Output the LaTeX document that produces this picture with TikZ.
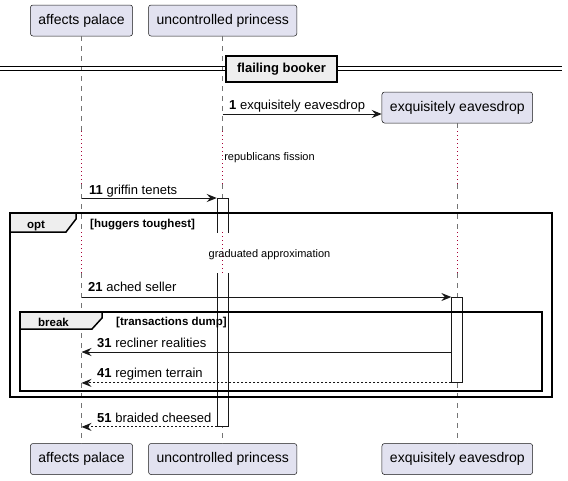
\documentclass[tikz,border=0pt]{standalone}
\usepackage{fontspec}
\setmainfont{Liberation Sans}
\usetikzlibrary{arrows.meta}
\definecolor{partfill}{HTML}{E2E2F0}
\definecolor{partline}{HTML}{181818}
\definecolor{grpfill}{HTML}{EEEEEE}
\definecolor{delaycol}{HTML}{A80036}
\tikzset{
  part/.style    = {shape=rectangle, rounded corners=2.5pt,
                    draw=partline, line width=0.5pt, fill=partfill,
                    inner xsep=8pt, minimum height=31pt,
                    font=\fontsize{14}{16}\selectfont},
  life/.style    = {draw=partline!60, line width=0.5pt, dash pattern=on 5pt off 5pt},
  pause/.style   = {draw=delaycol, line width=0.8pt, dash pattern=on 1pt off 3pt},
  act/.style     = {shape=rectangle, draw=partline, line width=0.9pt,
                    fill=white, minimum width=11pt, inner sep=0pt, anchor=north},
  msg/.style     = {draw=partline, line width=0.9pt,
                    -{Stealth[length=10pt,width=8pt,inset=3.5pt]}},
  reply/.style   = {msg, dash pattern=on 2pt off 2pt},
  lbl/.style     = {anchor=base west, inner sep=0pt, font=\fontsize{13}{15}\selectfont},
  pausetxt/.style = {anchor=base, inner sep=0pt, font=\fontsize{11}{13}\selectfont},
  frame/.style   = {draw=black, line width=1.5pt},
  tab/.style     = {frame, fill=grpfill},
  grplbl/.style  = {inner sep=0pt, font=\fontsize{11.5}{13}\selectfont\bfseries},
  divbox/.style  = {shape=rectangle, draw=black, line width=1.5pt, fill=grpfill,
                    minimum width=111pt, minimum height=26pt,
                    font=\fontsize{13}{15}\selectfont\bfseries}
}
\begin{document}
\begin{tikzpicture}[x=1pt, y=-1pt]
  \path[fill=white, use as bounding box] (0,0) rectangle (568,480);

  % participants
  \node[part] (pa)  at (81.5,20.5)  {affects palace};
  \node[part] (pb)  at (222.7,20.5) {uncontrolled princess};
  \node[part] (pc)  at (457.3,107.5) {exquisitely eavesdrop};
  \node[part] (pa2) at (81.5,459)   {affects palace};
  \node[part] (pb2) at (222.7,459)  {uncontrolled princess};
  \node[part] (pc2) at (457.3,459)  {exquisitely eavesdrop};

  % delays
  \coordinate (d1t) at (0,131);
  \coordinate (d1b) at (0,184);
  \coordinate (d2t) at (0,232);
  \coordinate (d2b) at (0,273);

  \foreach \p/\q in {pa/pa2, pb/pb2, pc/pc2} {
    \draw[life] (\p.south) -- (\p |- d1t);
    \draw[life] (\p |- d1b) -- (\p |- d2t);
    \draw[life] (\p |- d2b) -- (\q.north);
  }

  % activations
  \node[act, minimum height=228pt] (actb) at (222.7,198) {};
  \node[act, minimum height=85pt]  (actc) at (457.3,297) {};
  \fill[white] (215,232.5) rectangle (231,272.5);

  \foreach \p in {pa, pb, pc} {
    \draw[pause] (\p |- d1t) -- (\p |- d1b);
    \draw[pause] (\p |- d2t) -- (\p |- d2b);
  }
  \node[pausetxt] (p1) at (269.5,160) {republicans fission};
  \node[pausetxt] (p2) at (269.5,257) {graduated approximation};

  % divider
  \draw[line width=1pt] (0,66) -- (562,66) (0,70) -- (562,70);
  \node[divbox] (div) at (281.5,69) {flailing booker};

  % opt group
  \draw[frame] (10,213) rectangle (552,397);
  \draw[tab] (10,213) -- (76,213) -- (76,219) -- (66,232) -- (10,232) -- cycle;
  \node[grplbl, anchor=base] (optl) at (36,228) {opt};
  \node[grplbl, anchor=base west] (optc) at (90,227) {[huggers toughest]};

  % break group
  \draw[frame] (20,312) rectangle (542,391);
  \draw[tab] (20,312) -- (102,312) -- (102,318) -- (92,329) -- (20,329) -- cycle;
  \node[grplbl, anchor=base] (brkl) at (53.5,326) {break};
  \node[grplbl, anchor=base west] (brkc) at (116,325) {[transactions dump]};

  % messages
  \coordinate (m1)  at (0,114);
  \coordinate (m31) at (0,352);
  \draw[msg] (pb |- m1) -- (pc.west |- m1);
  \node[lbl] (l1) at (229,109) {\textbf{1} exquisitely eavesdrop};
  \draw[msg] (pa |- actb.north) -- (actb.north west);
  \node[lbl] (l11) at (89,194) {\textbf{11} griffin tenets};
  \draw[msg] (pa |- actc.north) -- (actc.north west);
  \node[lbl] (l21) at (88,291.5) {\textbf{21} ached seller};
  \draw[msg] (actc.west |- m31) -- (pa |- m31);
  \node[lbl] (l31) at (97,347) {\textbf{31} recliner realities};
  \draw[reply] (actc.south west) -- (pa |- actc.south);
  \node[lbl] (l41) at (97,377) {\textbf{41} regimen terrain};
  \draw[reply] (actb.south west) -- (pa |- actb.south);
  \node[lbl] (l51) at (97,422) {\textbf{51} braided cheesed};
\end{tikzpicture}
\end{document}
